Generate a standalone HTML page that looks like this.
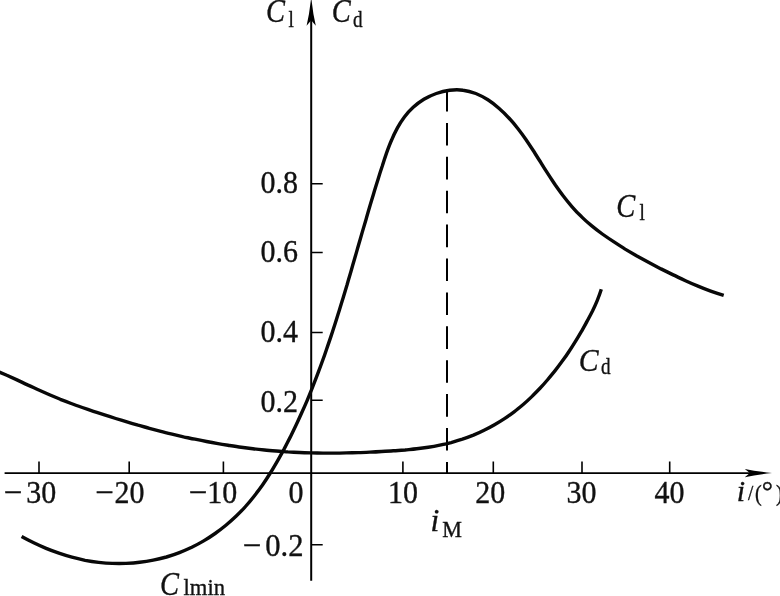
<!DOCTYPE html>
<html><head><meta charset="utf-8"><title>Cl Cd</title>
<style>
html,body{margin:0;padding:0;background:#fff;}
svg{display:block}
text{font-family:"Liberation Serif",serif;fill:#111;stroke:#111;stroke-width:0.35px}
.n{font-size:30px}
.i{font-size:30px;font-style:italic}
.s{font-size:22.5px}
</style></head><body>
<svg width="780" height="596" viewBox="0 0 780 596">
<rect width="780" height="596" fill="#fff"/>
<g fill="none" stroke="#000" stroke-width="1.6">
<path d="M4.6 473.05H760" stroke-width="1.8"/>
<path d="M311.2 10V580.8" stroke-width="2"/>
<path d="M39.0 461.5V473M129.2 461.5V473M223.4 461.5V473M402.9 461.5V473M493.3 461.5V473M582.0 461.5V473M669.7 461.5V473M311 183.8H322.7M311 252.5H322.7M311 332.5H322.7M311 400.3H322.7M311 544.8H322.7"/>
<path d="M447 89V473" stroke-width="2" stroke-dasharray="22.6 11.3"/>
</g>
<path d="M772 473.1Q757 471.4 744.8 468.9L749.8 473.1L744.8 477.3Q757 474.8 772 473.1Z" fill="#000"/>
<path d="M311.2 -3Q309.6 13 306.6 25.8L311.2 20.3L315.8 25.8Q312.8 13 311.2 -3Z" fill="#000"/>
<g fill="none" stroke="#080808" stroke-width="3.4" stroke-linecap="butt" stroke-linejoin="round">
<path d="M21.6 536.5C25.6 538.7 29.6 540.8 33.7 542.8C37.8 544.8 41.9 546.6 46.1 548.4C50.3 550.1 54.6 551.7 58.9 553.2C63.2 554.7 67.5 556.0 71.9 557.2C76.3 558.4 80.7 559.4 85.1 560.3C89.6 561.1 94.1 561.8 98.6 562.4C103.1 562.9 107.7 563.3 112.3 563.4C116.8 563.6 121.4 563.6 126.0 563.4C130.5 563.2 135.1 562.9 139.7 562.3C144.2 561.8 148.7 561.1 153.2 560.2C157.7 559.3 162.1 558.2 166.5 557.0C170.8 555.7 175.1 554.3 179.4 552.6C183.6 551.0 187.7 549.2 191.8 547.3C195.8 545.3 199.8 543.2 203.7 540.9C207.6 538.6 211.4 536.1 215.1 533.5C218.8 530.9 222.4 528.2 225.9 525.3C229.4 522.4 232.7 519.4 236.0 516.3C239.3 513.1 242.5 509.9 245.5 506.5C248.6 503.1 251.5 499.6 254.3 496.0C257.1 492.4 259.9 488.7 262.5 485.0C265.1 481.2 267.6 477.4 270.0 473.5C272.5 469.6 274.8 465.6 277.1 461.6C279.4 457.6 281.6 453.6 283.8 449.6C285.9 445.5 288.0 441.5 290.1 437.4C292.1 433.3 294.1 429.2 296.1 425.1C298.0 421.0 299.9 416.9 301.7 412.8C303.6 408.6 305.4 404.5 307.2 400.3C308.9 396.1 310.6 392.0 312.3 387.8C314.0 383.6 315.6 379.4 317.2 375.2C318.8 370.9 320.4 366.7 321.9 362.5C323.5 358.2 325.0 354.0 326.4 349.7C327.9 345.4 329.4 341.1 330.8 336.9C332.2 332.6 333.6 328.3 335.0 324.0C336.4 319.7 337.7 315.3 339.1 311.0C340.4 306.7 341.7 302.4 343.1 298.0C344.4 293.7 345.7 289.3 347.0 285.0C348.2 280.6 349.5 276.2 350.8 271.9C352.1 267.5 353.3 263.1 354.6 258.7C355.9 254.4 357.1 250.0 358.4 245.6C359.7 241.2 360.9 236.8 362.2 232.4C363.5 228.0 364.8 223.6 366.1 219.2C367.3 214.8 368.6 210.4 369.9 206.0C371.2 201.6 372.6 197.2 373.9 192.7C375.2 188.3 376.6 183.9 378.0 179.5C379.3 175.1 380.7 170.7 382.2 166.3C383.6 161.8 385.0 157.4 386.5 153.1C388.1 148.7 389.7 144.4 391.5 140.3C393.2 136.1 395.2 132.0 397.3 128.1C399.4 124.2 401.8 120.5 404.4 117.0C407.0 113.6 409.9 110.3 413.2 107.3C416.4 104.4 420.0 101.7 423.9 99.3C427.8 97.0 432.0 95.0 436.3 93.5C440.6 92.0 445.1 90.9 449.6 90.3C454.1 89.7 458.6 89.6 463.0 90.2C467.4 90.7 471.7 91.9 475.8 93.5C480.0 95.2 484.0 97.3 487.9 99.8C491.7 102.3 495.4 105.1 498.9 108.2C502.5 111.3 505.8 114.6 508.9 118.0C512.1 121.4 515.0 124.9 517.8 128.5C520.6 132.1 523.3 135.7 525.9 139.5C528.4 143.2 530.9 147.0 533.4 150.8C535.8 154.6 538.2 158.5 540.7 162.3C543.1 166.2 545.5 170.0 548.0 173.9C550.4 177.7 553.0 181.5 555.5 185.3C558.1 189.0 560.7 192.7 563.5 196.3C566.2 199.9 569.1 203.4 572.1 206.8C575.0 210.2 578.1 213.5 581.4 216.6C584.6 219.8 588.0 222.8 591.5 225.6C595.0 228.5 598.6 231.3 602.3 234.0C606.0 236.6 609.8 239.2 613.6 241.7C617.4 244.2 621.2 246.7 625.1 249.1C629.0 251.4 632.9 253.7 636.9 256.0C640.9 258.2 644.9 260.4 648.9 262.6C652.9 264.7 656.9 266.8 661.0 268.9C665.0 270.9 669.1 272.9 673.2 274.9C677.3 276.9 681.4 278.8 685.5 280.7C689.6 282.6 693.8 284.4 698.0 286.1C702.2 287.9 706.4 289.5 710.7 291.1C715.0 292.6 719.3 294.0 723.7 295.4"/>
<path d="M-4.0 370.8C-0.4 372.3 3.2 373.8 6.8 375.3C10.4 376.9 14.0 378.5 17.5 380.1C21.1 381.8 24.6 383.4 28.1 385.1C31.7 386.7 35.2 388.4 38.8 390.0C42.3 391.6 45.9 393.2 49.5 394.8C53.1 396.3 56.7 397.8 60.3 399.3C63.9 400.7 67.6 402.1 71.2 403.5C74.9 404.9 78.6 406.2 82.3 407.5C86.0 408.8 89.7 410.0 93.4 411.3C97.1 412.5 100.8 413.7 104.5 414.9C108.2 416.1 112.0 417.3 115.7 418.5C119.4 419.6 123.2 420.8 126.9 421.9C130.6 423.0 134.4 424.1 138.1 425.2C141.9 426.2 145.7 427.3 149.4 428.3C153.2 429.3 157.0 430.3 160.8 431.3C164.5 432.3 168.3 433.2 172.1 434.1C175.9 435.0 179.7 435.9 183.5 436.8C187.4 437.6 191.2 438.5 195.0 439.2C198.8 440.0 202.7 440.8 206.5 441.5C210.3 442.3 214.2 443.0 218.0 443.6C221.9 444.3 225.8 444.9 229.6 445.5C233.5 446.1 237.4 446.7 241.2 447.2C245.1 447.8 249.0 448.3 252.9 448.7C256.8 449.2 260.6 449.6 264.5 450.0C268.4 450.4 272.3 450.7 276.2 451.0C280.1 451.4 284.0 451.6 287.9 451.9C291.8 452.1 295.7 452.3 299.6 452.5C303.5 452.7 307.4 452.8 311.3 452.9C315.2 453.0 319.1 453.0 323.0 453.1C326.9 453.1 330.8 453.1 334.7 453.1C338.6 453.1 342.5 453.0 346.4 452.9C350.3 452.8 354.3 452.7 358.2 452.6C362.1 452.5 366.0 452.3 369.9 452.1C373.8 452.0 377.7 451.8 381.6 451.5C385.5 451.3 389.4 451.1 393.3 450.8C397.3 450.6 401.2 450.3 405.1 450.0C409.0 449.6 412.9 449.3 416.7 448.8C420.6 448.4 424.5 447.9 428.3 447.3C432.2 446.7 436.0 446.0 439.8 445.2C443.6 444.4 447.4 443.6 451.2 442.6C455.0 441.5 458.7 440.4 462.4 439.2C466.1 437.9 469.8 436.5 473.4 435.1C477.0 433.6 480.6 432.0 484.1 430.2C487.6 428.5 491.1 426.7 494.5 424.7C497.9 422.8 501.3 420.7 504.5 418.6C507.8 416.4 511.0 414.2 514.1 411.8C517.2 409.5 520.2 407.0 523.2 404.5C526.1 402.0 529.0 399.3 531.8 396.6C534.6 393.9 537.3 391.1 540.0 388.3C542.7 385.4 545.3 382.5 547.8 379.5C550.3 376.5 552.8 373.5 555.3 370.4C557.7 367.4 560.0 364.3 562.3 361.1C564.6 358.0 566.9 354.8 569.0 351.5C571.2 348.3 573.3 345.0 575.3 341.7C577.4 338.4 579.4 335.0 581.3 331.7C583.2 328.3 585.2 324.9 587.0 321.4C588.9 318.0 590.7 314.5 592.5 311.0C594.2 307.5 595.8 303.9 597.3 300.3C598.8 296.7 600.1 293.1 601.3 289.3"/>
</g>
<text class="n" transform="translate(3.60 503.00) scale(1.100 1.075)">−</text>
<text class="n" transform="translate(26.20 503.00) scale(1.000 1.075)">30</text>
<text class="n" transform="translate(95.00 503.00) scale(1.100 1.075)">−</text>
<text class="n" transform="translate(114.50 503.00) scale(1.000 1.075)">20</text>
<text class="n" transform="translate(188.40 503.00) scale(1.100 1.075)">−</text>
<text class="n" transform="translate(207.20 503.00) scale(1.000 1.075)">10</text>
<text class="n" transform="translate(288.60 503.00) scale(1.000 1.075)">0</text>
<text class="n" transform="translate(388.00 503.00) scale(1.000 1.075)">10</text>
<text class="n" transform="translate(475.20 503.00) scale(1.000 1.075)">20</text>
<text class="n" transform="translate(566.50 503.00) scale(1.000 1.075)">30</text>
<text class="n" transform="translate(654.50 503.00) scale(1.000 1.075)">40</text>
<text class="n" transform="translate(260.50 193.30) scale(1.000 1.075)">0.8</text>
<text class="n" transform="translate(260.50 262.30) scale(1.000 1.075)">0.6</text>
<text class="n" transform="translate(260.50 341.50) scale(1.000 1.075)">0.4</text>
<text class="n" transform="translate(260.50 411.50) scale(1.000 1.075)">0.2</text>
<text class="n" transform="translate(242.60 556.20) scale(1.100 1.075)">−</text>
<text class="n" transform="translate(265.20 556.20) scale(1.020 1.075)">0.2</text>
<text class="i" transform="translate(266.10 21.50) scale(0.950 1.090)">C</text>
<text class="i" transform="translate(331.80 21.50) scale(0.950 1.090)">C</text>
<text class="i" transform="translate(616.30 216.60) scale(0.950 1.090)">C</text>
<text class="i" transform="translate(160.00 594.50) scale(0.950 1.090)">C</text>
<text class="i" transform="translate(578.80 370.60) scale(0.990 1.050)">C</text>
<text class="i" transform="translate(430.60 530.60) scale(1.050 1.020)">i</text>
<text class="i" transform="translate(736.70 501.30) scale(1.000 1.000)">i</text>
<text class="s" transform="translate(288.60 26.50) scale(0.850 1.000)">l</text>
<text class="s" transform="translate(352.90 26.50) scale(0.850 1.000)">d</text>
<text class="s" transform="translate(639.60 219.50) scale(0.850 1.000)">l</text>
<text class="s" transform="translate(601.00 374.00) scale(0.850 1.000)">d</text>
<text class="s" style="font-size:23.5px" transform="translate(183.60 595.00) scale(0.960 1.000)">lmin</text>
<text class="s" transform="translate(442.30 537.30) scale(0.985 1.000)">M</text>
<text class="s" style="font-size:19px" transform="translate(748.10 500.40) scale(1.000 1.100)">/</text>
<text class="s" style="font-size:22.5px" transform="translate(755.00 500.50) scale(0.900 1.000)">(</text>
<text class="s" style="font-size:28px" transform="translate(761.80 499.60) scale(1.000 1.000)">°</text>
<text class="s" style="font-size:22.5px" transform="translate(776.00 500.50) scale(0.900 1.000)">)</text>

</svg>
</body></html>
